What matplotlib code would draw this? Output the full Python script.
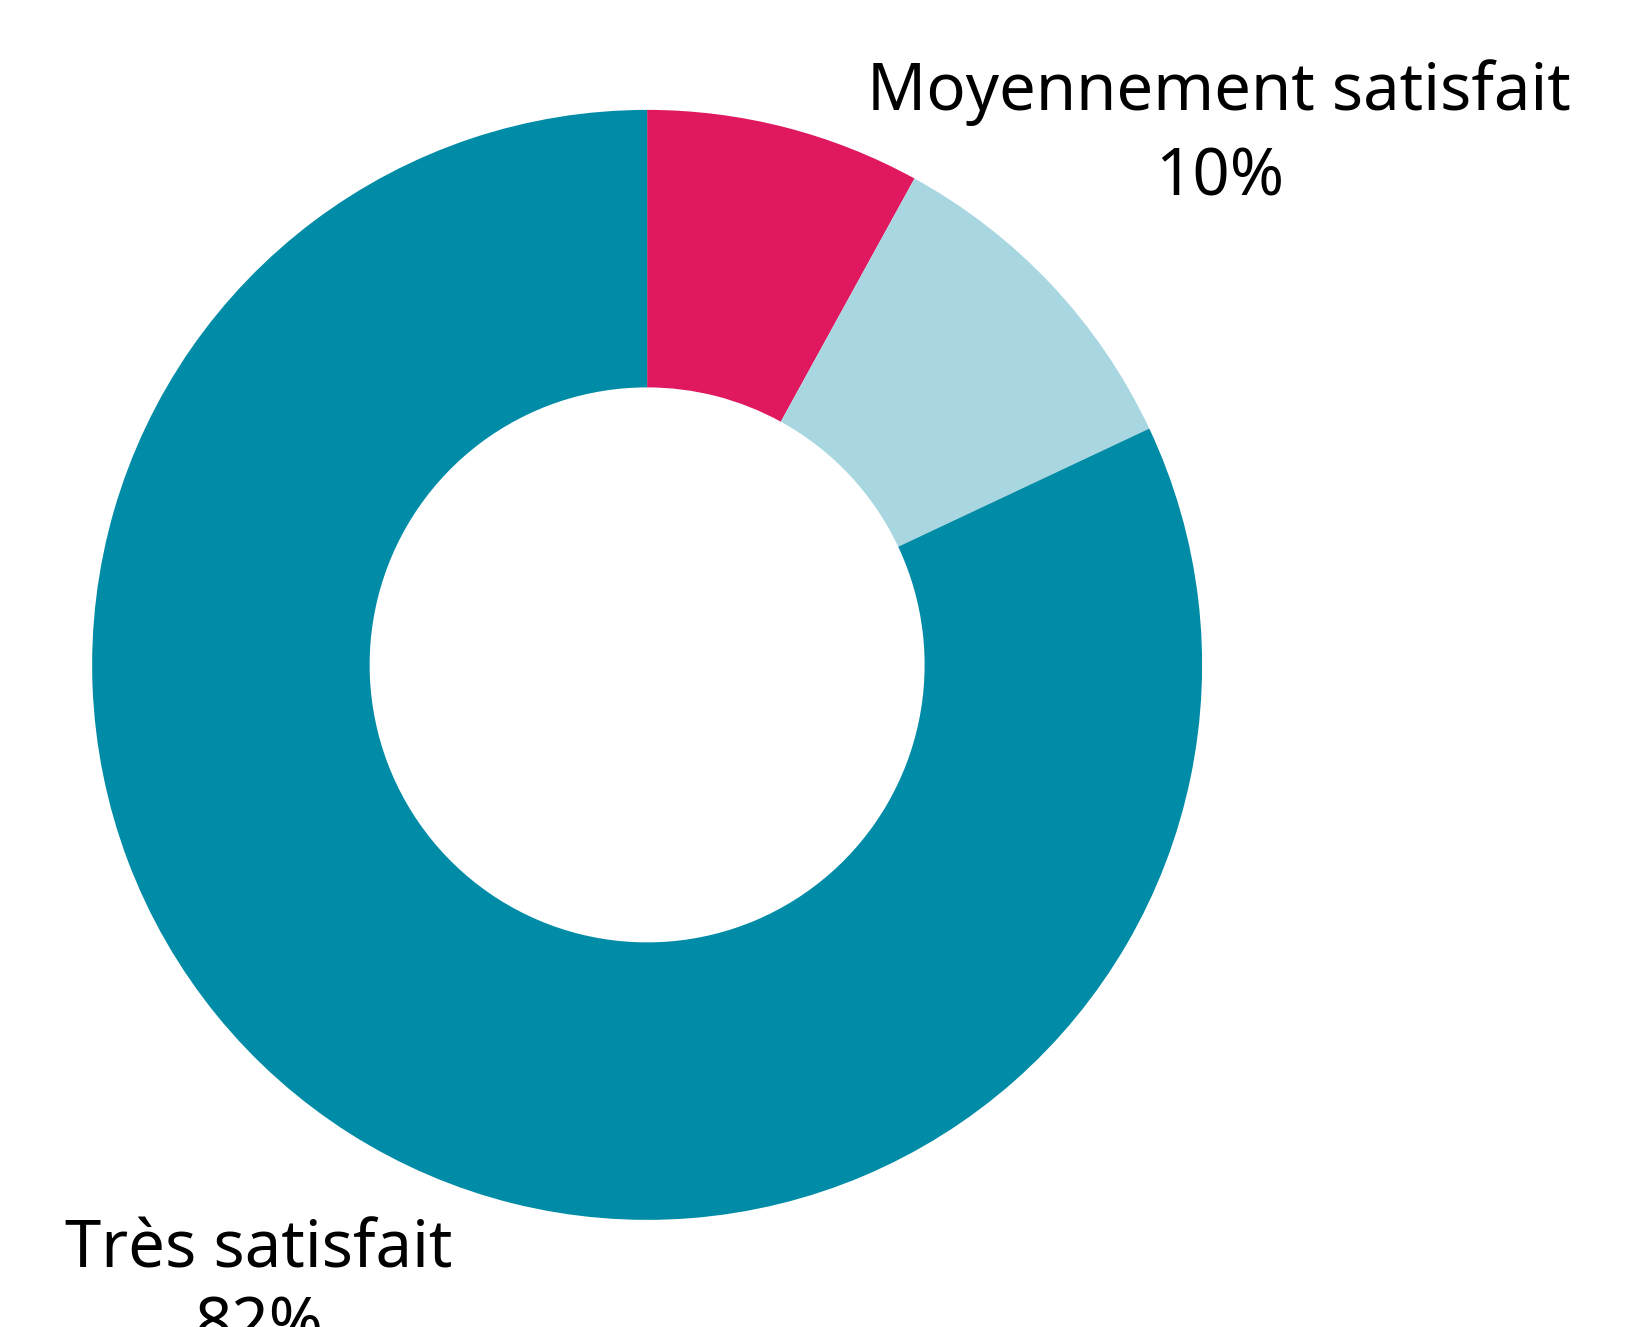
import matplotlib.pyplot as plt

labels = ["Peu satisfait", "Moyennement satisfait", "Très satisfait"]
values = [8, 10, 82]
colors = ["#E0185F", "#A9D7E1", "#008BA6"]

plt.rcParams['font.family'] = ['Noto Sans', 'DejaVu Sans']

fig = plt.figure(figsize=(16.45, 13.27), dpi=100)
ax = fig.add_axes([0, 0, 1, 1])

ax.pie(values, colors=colors, startangle=90, counterclock=False, radius=1,
       wedgeprops=dict(width=0.5, linewidth=0))

ax.set_xlim(-1.166, 1.798)
ax.set_ylim(-1.193, 1.198)
ax.set_aspect('auto')
ax.axis('off')

# labels for the two visible slices
ax.text(1.031, 1.0, labels[1], ha="center", va="baseline", fontsize=47)
ax.text(1.031, 0.845, f"{values[1]}%", ha="center", va="baseline", fontsize=47)
ax.text(-0.699, -1.085, labels[2], ha="center", va="baseline", fontsize=47)
ax.text(-0.699, -1.225, f"{values[2]}%", ha="center", va="baseline", fontsize=47)

fig.savefig("out.png", dpi=100)
